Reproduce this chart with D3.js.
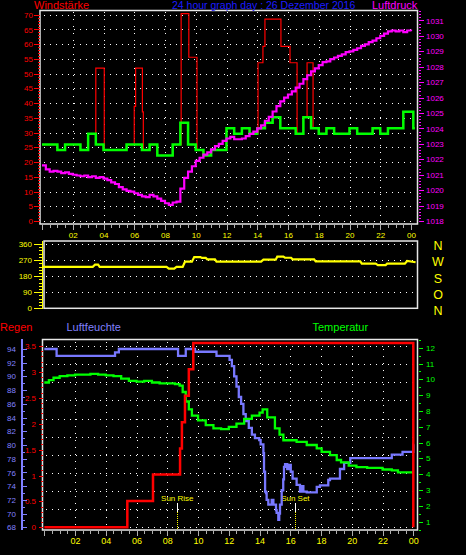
<!DOCTYPE html>
<html><head><meta charset="utf-8">
<script src="https://cdn.jsdelivr.net/npm/d3@7"></script>
<style>
html,body{margin:0;padding:0;background:#000;}
svg{display:block;background:#000;}
</style></head><body>
<svg id="c" width="466" height="555"></svg>
<script>
// ---------------- DATA ----------------
const titleMain = "24 hour graph day : 26 Dezember 2016";
const hourLabelValues = [2,4,6,8,10,12,14,16,18,20,22,24];

// average wind (knots), half-hour steps from 00:00
const windAvgKt = [14,14,13,14,14,13,16,14,13,13,13,14,14,13,14,12,12,14,18,14,13,12,13,13,
                   17,16,17,16,17,18,19,17,17,16,19,17,16,17,16,16,17,16,16,17,16,17,17,20];
const windAvgTail = [[24.15,17],[24.25,17]];
// gusts (knots) as step breakpoints
const gustTimes  = [0,1,1.5,2.5,3,3.5,4.05,5.5,6.0,6.09,6.53,6.59,7,7.5,8.5,9.05,9.55,10.08,10.5,11,
                    12,12.5,13,13.5,14.05,14.37,14.5,15.54,16.13,16.59,17.0,17.24,17.63,18,18.5,19,20,20.5,21.5,22,22.5,23.5,24.15,24.25];
const gustValues = [14,13,14,13,16,28,13,14,21,28,20,13,14,12,14,38,30,13,12,13,
                    17,16,17,16,29,32,37,32,29,16,19,29,17,16,17,16,17,16,17,16,17,20,17,17];
// pressure (hPa), quarter-hour readings
const pressure = [
 1021.6,1021.35,1021.2,1021.25,1021.2,1021.1,1021.15,1021.05,
 1021.0,1020.95,1020.9,1020.95,1020.85,1020.9,1020.8,1020.85,
 1020.75,1020.65,1020.5,1020.4,1020.2,1020.05,1019.95,1019.9,
 1019.8,1019.7,1019.6,1019.55,1019.7,1019.6,1019.45,1019.3,
 1019.15,1019.05,1019.2,1019.25,1020.1,1020.8,1021.2,1021.55,
 1021.9,1022.1,1022.3,1022.45,1022.65,1022.85,1023.0,1023.2,
 1023.35,1023.45,1023.3,1023.3,1023.35,1023.5,1023.65,1023.8,
 1024.0,1024.2,1024.5,1024.75,1025.1,1025.45,1025.75,1026.0,
 1026.2,1026.4,1026.65,1026.9,1027.2,1027.45,1027.7,1027.9,
 1028.1,1028.3,1028.35,1028.5,1028.6,1028.7,1028.8,1028.95,
 1029.0,1029.1,1029.2,1029.35,1029.45,1029.6,1029.7,1029.85,
 1030.0,1030.15,1030.3,1030.35,1030.3,1030.35,1030.25,1030.35,
 1030.3];

// wind direction (degrees)
const dirTimes  = [0,3.3,3.45,3.65,3.75,8.1,8.25,8.6,8.75,9.15,9.3,9.75,9.9,10.3,10.4,10.65,10.75,11.25,11.35,
                   14.25,14.4,15.2,15.3,15.7,15.8,16.2,16.3,17.7,17.8,20.7,20.8,21.7,21.85,22.35,22.45,23.6,23.75,24.3];
const dirValues = [232,232,244,244,232,232,222,222,232,232,261,261,287,287,282,282,274,274,261,
                   261,272,272,289,289,283,283,274,274,263,263,250,250,242,242,250,250,265,258];
const dirLetters = ["N","W","S","O","N"];
const dirLetterValues = [360,270,180,90,0];

// rain (mm, cumulative)
const rainTimes  = [0,5.4,7.07,8.83,8.95,9.15,9.4,9.69,24];
const rainValues = [0,0.51,1.02,1.52,2.03,2.54,3.05,3.56,0];
// humidity (%)
const humTimes = [0,0.8,4.6,4.85,8.7,9.2,9.8,11.2,12.05,12.2,12.35,12.5,12.65,12.8,12.95,13.1,13.3,13.5,13.7,13.98,
                  14.07,14.25,14.29,14.36,14.42,14.46,14.57,14.79,14.9,15.07,15.11,15.22,15.28,15.33,15.44,15.54,15.59,15.66,15.8,15.9,
                  16.03,16.15,16.41,16.63,16.75,16.85,17.07,17.72,17.93,18.47,18.58,19.23,19.5,19.9,22.6,23.3,24,24.05];
const humValues = [94.0,93.0,93.5,94.0,93.0,94.0,93.6,93.0,92.4,91.5,90.0,88.5,87.0,86.0,84.5,83.5,82.5,81.5,81.0,80.7,
                   80.1,78.8,76.1,73.2,73.0,72.0,71.3,72.0,71.3,70.5,70.1,69.1,70.0,71.3,73.4,75.0,76.8,77.2,76.5,77.1,
                   76.1,75.1,74.2,73.2,74.0,73.2,73.1,73.9,74.1,74.9,75.1,76.5,77.4,78.1,78.6,79.0,80.1,80.1];
// temperature (°C)
const tempTimes = [0,0.3,0.6,1.0,1.5,2.0,3.0,3.5,4.0,4.5,5.0,5.5,6.0,6.5,7.0,7.5,8.5,8.8,9.0,9.2,
                   9.4,9.6,10.0,10.5,11.0,11.5,12.0,12.5,13.0,13.5,14.0,14.2,14.5,15.0,15.3,15.55,16.41,17.07,17.72,18.04,
                   18.58,19.02,19.3,19.8,20.3,21.0,22.0,22.6,23.0,24.0];
const tempValues = [9.8,9.95,10.1,10.2,10.25,10.3,10.35,10.3,10.25,10.2,10.05,9.9,9.85,9.9,9.8,9.75,9.7,9.6,9.2,8.6,
                    8.1,7.7,7.4,7.1,6.9,6.85,7.0,7.2,7.5,7.7,7.9,8.1,7.6,6.9,6.5,6.15,6.05,5.85,5.64,5.42,
                    5.21,4.9,4.75,4.55,4.45,4.4,4.3,4.25,4.12,4.12];
const sunEvents = [{label:"Sun Rise", t:8.65},{label:"Sun Set", t:16.33}];

// ---------------- DRAW ----------------
const KT = 1.852;
const FONT = '"Liberation Sans", Arial, sans-serif';
const svg = d3.select("#c");
const C = {red:"#ff0000", green:"#00ff00", mag:"#ff00ff", yel:"#ffff00", blue:"#8080ff", title:"#1c1cff", frame:"#e6e6e6", tick:"#b0b0b0"};
const intFmt = d3.format("d");

function label(x,y,s,fill,size,anchor){
  return svg.append("text").attr("x",x).attr("y",y).text(s).attr("fill",fill)
    .attr("font-size",size).attr("font-family",FONT).attr("text-anchor",anchor||"start");
}
function hGrid(x1,x2,ys){
  svg.append("g").selectAll("line").data(ys).join("line")
    .attr("x1",x1).attr("x2",x2).attr("y1",d=>Math.round(d)+0.5).attr("y2",d=>Math.round(d)+0.5)
    .attr("stroke","#fff").attr("stroke-width",1).attr("stroke-dasharray","1,5").attr("shape-rendering","crispEdges");
}
function vGrid(xs,y1,y2){
  svg.append("g").selectAll("line").data(xs).join("line")
    .attr("x1",d=>Math.round(d)+0.5).attr("x2",d=>Math.round(d)+0.5).attr("y1",y1).attr("y2",y2)
    .attr("stroke","#fff").attr("stroke-width",1).attr("stroke-dasharray","1,6").attr("shape-rendering","crispEdges");
}
function axis(gen, tx, ty, color, size){
  const g = svg.append("g").attr("transform",`translate(${tx},${ty})`).call(gen);
  g.attr("color",color).attr("font-family",FONT).attr("font-size",size||8);
  g.select(".domain").remove();
  g.selectAll("line").attr("shape-rendering","crispEdges");
  return g;
}
function frame(x,y,w,h){
  svg.append("rect").attr("x",x).attr("y",y).attr("width",w).attr("height",h)
    .attr("fill","none").attr("stroke",C.frame).attr("stroke-width",1.5);
}

// ===== TOP CHART =====
const xTop = d3.scaleLinear().domain([0,24]).range([42,411]);
const yWind = d3.scaleLinear().domain([0,71.6]).range([221,10]);
const yPress = d3.scaleLinear().domain([1018,1031.68]).range([221,10]);

hGrid(44,416,d3.range(0,71,5).map(yWind));
vGrid(d3.range(2,23,2).map(xTop),12,223);
frame(40,10.5,377.5,213.5);

label(34,9,"Windstärke",C.red,11);
label(172,9,titleMain,C.title,10.5);
label(372,9,"Luftdruck",C.mag,11);

axis(d3.axisLeft(yWind).tickValues(d3.range(0,71,1)).tickSize(2).tickFormat(""),40,0,C.red);
axis(d3.axisLeft(yWind).tickValues(d3.range(0,71,5)).tickSize(6).tickPadding(1).tickFormat(intFmt),40,0,C.red);
axis(d3.axisRight(yPress).tickValues(d3.range(1018,1031.7,0.2)).tickSize(2).tickFormat(""),419,0,C.mag);
axis(d3.axisRight(yPress).tickValues(d3.range(1018,1032,1)).tickSize(5).tickPadding(2).tickFormat(intFmt),419,0,C.mag);

axis(d3.axisBottom(xTop).tickValues(d3.range(0,24.01,0.5)).tickSize(3).tickFormat(""),0,224.5,C.tick);
axis(d3.axisBottom(xTop).tickValues(d3.range(0,25,2)).tickSize(5).tickFormat(""),0,224.5,C.tick);
axis(d3.axisBottom(xTop).tickValues(hourLabelValues).tickSize(0).tickPadding(8)
      .tickFormat(d=>d3.format("02")(d%24)),0,224.5,C.yel);

const stepLine = (x,y)=>d3.line().x(d=>x(d[0])).y(d=>y(d[1])).curve(d3.curveStepAfter);

const gustPts = gustTimes.map((t,i)=>[t,gustValues[i]*KT]);
svg.append("path").datum(gustPts).attr("d",stepLine(xTop,yWind))
  .attr("fill","none").attr("stroke",C.red).attr("stroke-width",1.2);

const avgPts = windAvgKt.map((v,i)=>[i*0.5, v*KT]).concat(windAvgTail.map(d=>[d[0],d[1]*KT]));
svg.append("path").datum(avgPts).attr("d",stepLine(xTop,yWind))
  .attr("fill","none").attr("stroke",C.green).attr("stroke-width",2.5);

const pressPts = pressure.map((v,i)=>[i*0.25, v]);
svg.append("path").datum(pressPts).attr("d",stepLine(xTop,yPress))
  .attr("fill","none").attr("stroke",C.mag).attr("stroke-width",2.2);

// ===== MIDDLE CHART =====
const xMid = d3.scaleLinear().domain([0,24]).range([42,411]);
const yDir = d3.scaleLinear().domain([0,360]).range([308.3,244]);
hGrid(46,416,[0,90,180,270,360].map(yDir));
frame(44,241,373.5,67.3);
svg.append("line").attr("x1",42.5).attr("x2",42.5).attr("y1",241).attr("y2",309)
  .attr("stroke",C.yel).attr("stroke-width",1);
axis(d3.axisLeft(yDir).tickValues(d3.range(0,361,18)).tickSize(3).tickFormat(""),42,0,C.yel);
axis(d3.axisLeft(yDir).tickValues([0,90,180,270,360]).tickSize(8).tickPadding(2).tickFormat(intFmt),42,0,C.yel);
const dirPts = dirTimes.map((t,i)=>[t,dirValues[i]]);
svg.append("path").datum(dirPts)
  .attr("d",d3.line().x(d=>xMid(d[0])).y(d=>yDir(d[1])))
  .attr("fill","none").attr("stroke",C.yel).attr("stroke-width",2.2);
svg.append("g").selectAll("text").data(dirLetters).join("text")
  .attr("x",438).attr("y",(d,i)=>yDir(dirLetterValues[i])+2).attr("dy","0.35em")
  .attr("text-anchor","middle").attr("fill",C.yel).attr("font-family",FONT).attr("font-size",12.5).text(d=>d);

// ===== BOTTOM CHART =====
const xBot = d3.scaleLinear().domain([0,24]).range([44.3,413.3]);
const yRain = d3.scaleLinear().domain([0,3.5]).range([527.3,346]);
const yHum = d3.scaleLinear().domain([68,94]).range([527.3,349]);
const yTemp = d3.scaleLinear().domain([1,12]).range([521.7,347.7]);

hGrid(46,416,d3.range(0,11).map(i=>yRain(i*0.35)));
vGrid(d3.range(2,23,2).map(xBot),342,529);
frame(42.5,339.5,375,190.5);

label(0,331,"Regen",C.red,11);
label(66.5,331,"Luftfeuchte",C.blue,11);
label(312.5,331,"Temperatur",C.green,11);

axis(d3.axisLeft(yRain).tickValues(d3.range(0,3.55,0.1)).tickSize(2).tickFormat(""),43,0,C.red);
axis(d3.axisLeft(yRain).tickValues(d3.range(0,3.6,0.5)).tickSize(4).tickPadding(3).tickFormat(d=>String(+d.toFixed(1))),43,0,C.red);

svg.append("line").attr("x1",22).attr("x2",22).attr("y1",339).attr("y2",530)
  .attr("stroke",C.blue).attr("stroke-width",2);
axis(d3.axisRight(yHum).tickValues(d3.range(68,95,1)).tickSize(3).tickFormat(""),22,0,C.blue);
axis(d3.axisRight(yHum).tickValues(d3.range(68,95,2)).tickSize(4.5).tickFormat(""),22,0,C.blue);
axis(d3.axisLeft(yHum).tickValues(d3.range(68,95,2)).tickSize(0).tickPadding(6).tickFormat(intFmt),22,0,C.blue);

axis(d3.axisRight(yTemp).tickValues(d3.range(0.5,12.6,0.5)).tickSize(2).tickFormat(""),419,0,C.green);
axis(d3.axisRight(yTemp).tickValues(d3.range(1,13,1)).tickSize(4).tickPadding(3).tickFormat(intFmt),419,0,C.green);

axis(d3.axisBottom(xBot).tickValues(d3.range(0,24.01,0.5)).tickSize(3).tickFormat(""),0,530.5,C.tick);
axis(d3.axisBottom(xBot).tickValues(d3.range(0,25,2)).tickSize(5).tickFormat(""),0,530.5,C.tick);
axis(d3.axisBottom(xBot).tickValues(hourLabelValues).tickSize(0).tickPadding(7)
      .tickFormat(d=>d3.format("02")(d%24)),0,530.5,C.yel,9);

// sun rise / set markers
const sun = svg.append("g").selectAll("g").data(sunEvents).join("g");
sun.append("line").attr("x1",d=>Math.round(xBot(d.t))+0.5).attr("x2",d=>Math.round(xBot(d.t))+0.5)
  .attr("y1",503).attr("y2",512).attr("stroke","#fff").attr("stroke-width",1);
sun.append("line").attr("x1",d=>Math.round(xBot(d.t))+0.5).attr("x2",d=>Math.round(xBot(d.t))+0.5)
  .attr("y1",512).attr("y2",530).attr("stroke",C.yel).attr("stroke-width",1).attr("stroke-dasharray","1,1");
sun.append("text").attr("x",d=>xBot(d.t)).attr("y",501).attr("text-anchor","middle")
  .attr("fill",C.yel).attr("font-family",FONT).attr("font-size",8).text(d=>d.label);

const humPts = humTimes.map((t,i)=>[t,humValues[i]]);
svg.append("path").datum(humPts).attr("d",stepLine(xBot,yHum))
  .attr("fill","none").attr("stroke","#7878ff").attr("stroke-width",2.3);
const tempPts = tempTimes.map((t,i)=>[t,tempValues[i]]);
svg.append("path").datum(tempPts).attr("d",stepLine(xBot,yTemp))
  .attr("fill","none").attr("stroke",C.green).attr("stroke-width",2.3);
const rainPts = rainTimes.map((t,i)=>[t,rainValues[i]]);
svg.append("path").datum(rainPts).attr("d",stepLine(xBot,yRain))
  .attr("fill","none").attr("stroke",C.red).attr("stroke-width",2.5);
</script>
</body></html>
